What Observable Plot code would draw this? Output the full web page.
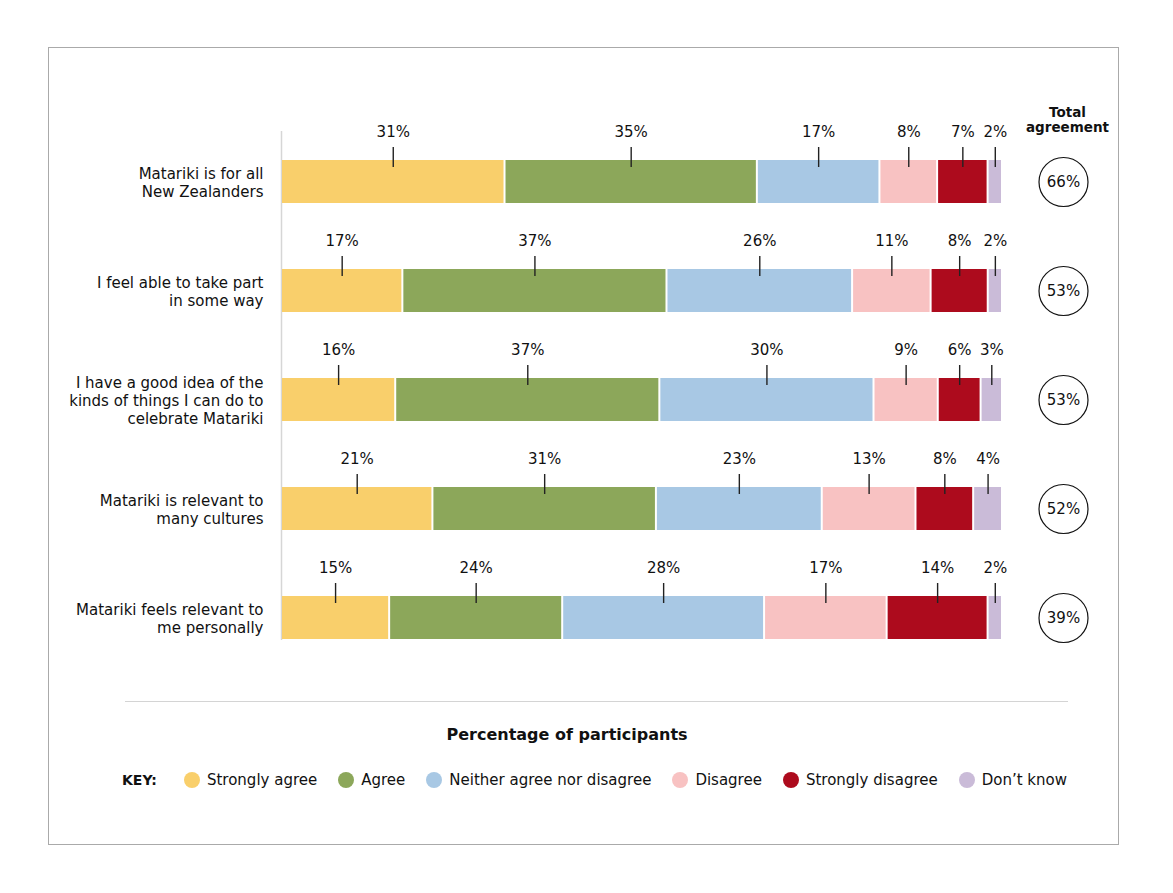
<!DOCTYPE html>
<html>
<head>
<meta charset="utf-8">
<script src="https://cdn.jsdelivr.net/npm/d3@7"></script>
<script src="https://cdn.jsdelivr.net/npm/@observablehq/plot@0.6"></script>
<style>
  html, body { margin: 0; padding: 0; background: #fff; }
  body { font-family: "DejaVu Sans", sans-serif; color: #111; }
  #page { position: relative; width: 1173px; height: 893px; }
  #border { position: absolute; left: 48px; top: 47px; width: 1069px; height: 796px; border: 1px solid #aaa; }
  #chart { position: absolute; left: 0; top: 0; }
  #sep { position: absolute; left: 125px; top: 701px; width: 943px; height: 0; border-top: 1px solid #d4d4d4; }
  #xtitle { position: absolute; left: 0; width: 1134px; top: 724px; text-align: center; font-weight: bold; font-size: 16px; line-height: 22px; }
  #legend { position: absolute; left: 122px; top: 769px; height: 22px; display: flex; align-items: center; font-size: 15px; line-height: 22px; white-space: nowrap; }
  #legend .key { font-weight: bold; font-size: 14px; margin-right: 27px; }
  #legend .item { display: flex; align-items: center; margin-right: 21px; }
  #legend .sw { width: 16px; height: 16px; border-radius: 50%; margin-right: 7px; }
</style>
</head>
<body>
<div id="page">
  <div id="border"></div>
  <div id="chart"></div>
  <div id="sep"></div>
  <div id="xtitle">Percentage of participants</div>
  <div id="legend"></div>
</div>
<script>
const categories = [
  "Matariki is for all New Zealanders",
  "I feel able to take part in some way",
  "I have a good idea of the kinds of things I can do to celebrate Matariki",
  "Matariki is relevant to many cultures",
  "Matariki feels relevant to me personally"
];
const categoryLabels = [
  "Matariki is for all\nNew Zealanders",
  "I feel able to take part\nin some way",
  "I have a good idea of the\nkinds of things I can do to\ncelebrate Matariki",
  "Matariki is relevant to\nmany cultures",
  "Matariki feels relevant to\nme personally"
];
const responses = ["Strongly agree", "Agree", "Neither agree nor disagree", "Disagree", "Strongly disagree", "Don’t know"];
const responseColors = ["#f9cf6b", "#8ca75a", "#a8c8e4", "#f8c2c2", "#ad0b1d", "#cabbd8"];

const stronglyAgree    = [31, 17, 16, 21, 15];
const agree            = [35, 37, 37, 31, 24];
const neither          = [17, 26, 30, 23, 28];
const disagree         = [8, 11, 9, 13, 17];
const stronglyDisagree = [7, 8, 6, 8, 14];
const dontKnow         = [2, 2, 3, 4, 2];
const totalAgreement   = [66, 53, 53, 52, 39];

const series = [stronglyAgree, agree, neither, disagree, stronglyDisagree, dontKnow];
const rows = [];
categories.forEach((c, i) => {
  responses.forEach((r, j) => rows.push({category: c, response: r, value: series[j][i]}));
});
const totals = categories.map((c, i) => ({category: c, total: totalAgreement[i]}));
const labelOf = Object.fromEntries(categories.map((c, i) => [c, categoryLabels[i]]));

const stackOpts = {x: "value", y: "category", z: "response", offset: "normalize"};

const chart = Plot.plot({
  width: 1173,
  height: 690,
  marginLeft: 281,
  marginRight: 171,
  marginTop: 131,
  marginBottom: 50,
  style: {fontFamily: "'DejaVu Sans', sans-serif", fontSize: "15px", color: "#111", background: "transparent"},
  x: {domain: [0, 1], axis: null},
  y: {domain: categories, range: [127.3, 672.3], paddingInner: 0.605, paddingOuter: 0.3, label: null},
  color: {domain: responses, range: responseColors},
  marks: [
    Plot.ruleX([0], {stroke: "#d6d6d6", strokeWidth: 1.5}),
    Plot.barX(rows, Plot.stackX({...stackOpts, fill: "response", insetLeft: 1, insetRight: 1})),
    Plot.tickX(rows, Plot.stackX({...stackOpts, stroke: "#222", strokeWidth: 1.4, insetTop: 0, insetBottom: 23, dy: -13})),
    Plot.text(rows, Plot.stackX({...stackOpts, text: d => d.value + "%", dy: -50, fontSize: 15, fill: "#111"})),
    Plot.axisY({tickSize: 0, tickPadding: 18, tickFormat: d => labelOf[d], fontSize: 15, lineHeight: 1.2, fill: "#111", label: null}),
    Plot.dot(totals, {y: "category", frameAnchor: "right", dx: 61, r: 24.5, stroke: "#111", strokeWidth: 1.2, fill: "white"}),
    Plot.text(totals, {y: "category", frameAnchor: "right", dx: 61, textAnchor: "middle", text: d => d.total + "%", fontSize: 15, fill: "#111"}),
    Plot.text(["Total\nagreement"], {frameAnchor: "top-right", dx: 65, dy: -12, textAnchor: "middle", lineAnchor: "middle", lineHeight: 1.12, fontWeight: "bold", fontSize: 13.5, fill: "#111"})
  ]
});
document.getElementById("chart").appendChild(chart);

const legend = document.getElementById("legend");
const key = document.createElement("span");
key.className = "key";
key.textContent = "KEY:";
legend.appendChild(key);
responses.forEach((r, j) => {
  const item = document.createElement("span");
  item.className = "item";
  const sw = document.createElement("span");
  sw.className = "sw";
  sw.style.background = responseColors[j];
  const t = document.createElement("span");
  t.textContent = r;
  item.appendChild(sw);
  item.appendChild(t);
  legend.appendChild(item);
});
</script>
</body>
</html>
